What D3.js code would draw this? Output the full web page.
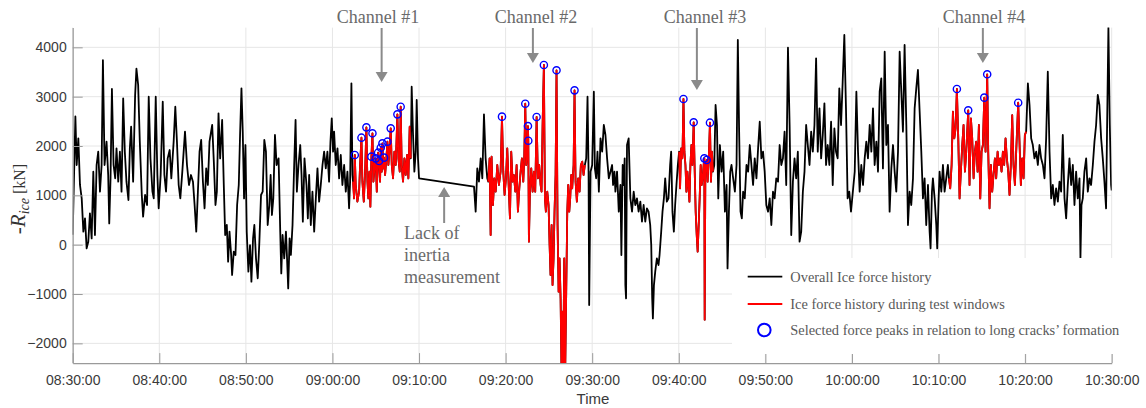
<!DOCTYPE html>
<html><head><meta charset="utf-8">
<script src="https://cdn.jsdelivr.net/npm/d3@7"></script>
<style>body{margin:0;background:#fff;}svg{display:block;}</style>
</head><body>
<svg id="chart" width="1146" height="408"></svg>
<script>
// ---------------- DATA (minutes after 08:30:00, force in kN) ----------------
const timeA = [0.00,0.31,0.46,0.65,0.84,1.04,1.23,1.42,1.61,1.80,1.99,2.19,2.38,2.57,2.76,2.95,3.15,3.34,3.49,3.68,3.91,4.10,4.22,4.37,4.53,4.72,4.91,5.06,5.26,5.45,5.64,5.83,6.02,6.21,6.44,6.60,6.75,6.98,7.21,7.36,7.56,7.75,7.98,8.13,8.36,8.59,8.78,8.98,9.21,9.36,9.59,9.78,9.93,10.16,10.40,10.59,10.78,10.97,11.20,11.39,11.66,11.85,12.04,12.24,12.43,12.66,12.97,13.20,13.43,13.66,13.89,14.08,14.27,14.46,14.65,14.84,15.04,15.23,15.42,15.61,15.80,16.11,16.30,16.49,16.65,16.84,17.03,17.26,17.45,17.61,17.80,17.95,18.11,18.30,18.41,18.60,18.80,18.99,19.18,19.33,19.49,19.64,19.79,19.95,20.10,20.29,20.48,20.64,20.83,20.98,21.17,21.37,21.56,21.75,21.94,22.13,22.32,22.52,22.71,22.86,23.01,23.17,23.36,23.55,23.78,23.97,24.09,24.24,24.43,24.63,24.74,24.89,25.05,25.20,25.39,25.58,25.74,25.89,26.08,26.28,26.43,26.58,26.77,27.00,27.16,27.31,27.50,27.69,27.89,28.08,28.27,28.46,28.65,28.85,29.04,29.23,29.42,29.61,29.77,29.92,30.07,30.19];
const forceA = [200,2600,1615,2155,1210,939,264,534,-74,61,635,128,1480,196,1615,1885,1074,1615,3740,1615,2088,1412,432,1345,3156,1615,1345,1953,1277,1885,1074,2966,1885,1277,905,1953,2392,1277,3034,3567,3236,2088,1007,568,1007,804,2999,1750,1074,939,2999,1412,737,1412,2898,1412,1074,1750,1919,1345,2088,2797,2088,1210,939,1480,2291,1615,1210,1412,1277,804,264,1074,1885,2122,1277,737,1547,1210,2088,2426,1682,804,1074,2662,1750,2527,1210,196,399,-345,264,-209,-615,-142,-209,804,1210,2223,3169,2291,939,2020,264,-547,-7,-750,128,399,-277,-683,61,1007,1074,2122,1885,399,804,1412,601,939,2223,1615,1750,264,-581,196,-277,264,-209,-885,128,-209,399,1615,2527,1074,1615,2020,1412,466,1750,1210,534,1412,399,1074,264,939,1547,872,1210,1615,1885,1547,1885,1277,2088,2561,1885,2291];

const timeB = [30.38,30.58,30.77,30.96,31.15,31.35,31.54,31.73,31.92,32.04,32.19,32.31,32.38,32.50,32.58,32.69,32.88,33.08,33.19,33.35,33.46,33.62,33.77,33.92,34.04,34.15,34.27,34.38,34.50,34.62,34.73,34.88,35.00,35.12,35.27,35.38,35.50,35.58,35.69,35.77,35.88,35.96,36.08,36.23,36.35,36.46,36.58,36.73,36.85,37.00,37.15,37.31,37.50,37.62,37.77,37.88,38.00,38.15,38.31,38.46,38.62,38.77,38.92,39.04,39.15,39.31,39.46,39.62,39.73,39.88,40.00,46.35,46.54,46.73,46.92,47.12,47.31,47.50,47.69,47.88,48.00,48.15,48.27,48.38,48.54,48.69,48.85,49.04,49.23,49.42,49.58,49.73,49.88,50.04,50.19,50.35,50.50,50.65,50.81,50.96,51.12,51.27,51.42,51.58,51.73,51.88,52.04,52.15,52.27,52.38,52.50,52.58,52.62,52.69,52.81,52.96,53.12,53.27,53.42,53.58,53.73,53.88,54.04,54.15,54.27,54.42,54.54,54.65,54.81,54.96,55.08,55.19,55.31,55.42,55.54,55.65,55.77,55.88,56.00,56.12,56.23,56.35,56.46,56.54,56.65,56.77,56.88,57.00,57.12,57.23,57.35,57.46,57.58,57.69,57.85,57.96,58.08,58.23,58.38,58.54,58.69,58.85,59.00,59.15,59.31,59.46,59.58,59.65,59.81,60.00];
const forceB = [1615,1953,1345,1818,1210,1615,1074,1480,737,1277,3270,1412,1277,939,1818,1210,872,1074,1615,2169,1277,872,1480,2378,1277,939,1480,770,1784,2257,1277,1615,1750,1074,1865,1696,1277,1966,1480,2054,1547,1764,1412,1750,2088,1615,1885,2358,1615,1345,1885,1615,2642,1750,1480,2797,1615,1277,1750,1412,1818,1345,2392,1750,3203,2223,1480,1885,2933,1750,1345,1176,669,1547,1277,1750,1345,2642,1750,1345,1277,1750,196,1784,804,1345,1074,1615,1210,1480,2595,1480,1007,1345,1953,1210,534,1885,1277,1412,1074,1615,669,1142,1480,1750,1277,1750,2858,1615,1885,2405,2108,61,1074,1547,1074,1480,1074,2588,1345,1615,1210,1074,2426,3642,939,669,1074,804,-7,-615,399,-818,-277,669,1412,3534,399,-953,-277,-1088,-2600,-1358,-2600,-277,-2600,-953,669,1210,669,939,1412,1142,1615,3128,1277,872,1345,1074,1615,1682,1412,1615,1750,3000,1480,-1223,1480,1615];

const timeC = [60.19,60.31,60.46,60.61,60.77,60.96,61.15,61.34,61.53,61.72,61.92,62.11,62.30,62.41,62.57,62.68,62.87,63.07,63.26,63.37,63.52,63.64,63.75,63.83,63.91,64.02,64.21,64.41,64.60,64.79,64.98,65.17,65.36,65.56,65.75,65.94,66.13,66.32,66.51,66.70,66.82,66.93,67.01,67.13,67.28,67.47,67.66,67.78,67.97,68.12,68.28,68.43,68.62,68.81,69.00,69.12,69.27,69.43,69.58,69.73,69.89,70.04,70.15,70.27,70.42,70.54,70.65,70.77,70.88,71.00,71.11,71.23,71.34,71.46,71.57,71.72,71.84,71.95,72.07,72.18,72.30,72.41,72.53,72.64,72.76,72.87,72.95,72.99,73.07,73.22,73.33,73.49,73.60,73.72,73.83,73.95,74.10,74.25,74.41,74.56,74.75,74.94,75.13,75.33,75.52,75.63,75.79,75.94,76.09,76.28,76.48,76.67,76.82,76.97,77.13,77.28,77.43,77.62,77.82,78.01,78.20,78.39,78.58,78.77,78.97,79.16,79.35,79.54,79.73,79.92,80.11,80.31,80.50,80.69,80.88,81.07,81.26,81.46,81.65,81.84,82.03,82.22,82.41,82.61,82.80,82.99,83.18,83.37,83.56,83.75,83.95,84.14,84.33,84.52,84.71,84.90,85.10,85.29,85.48,85.67,85.86,86.05,86.25,86.44,86.63,86.82,87.01,87.20,87.39,87.59,87.78,87.97,88.16,88.35,88.54,88.74,88.93,89.12,89.31,89.50,89.69,89.89];
const forceC = [3101,1547,1345,1885,1074,2155,1885,2426,2223,1750,1345,1480,1615,1210,1480,1074,1480,669,1210,-209,1615,1210,1750,-818,-1088,2020,2155,939,669,1074,804,939,669,872,466,804,466,737,669,399,-7,-1088,-1493,-818,-547,-277,-412,-209,264,669,939,1345,872,939,1615,1885,669,264,804,1210,1615,1885,1142,1953,1750,2953,1885,1615,1074,1480,1210,872,1615,2020,1615,2480,1480,669,196,-142,399,939,1615,1210,1345,1615,1750,-1520,1480,1716,1277,1885,2473,1277,1885,1480,1615,2831,2426,939,2020,1480,1885,669,1210,-480,669,1480,1615,1345,1074,1615,4149,2291,669,534,1074,939,1615,1480,2020,1615,1210,1750,1345,1953,2493,1750,1885,1480,804,669,939,399,1074,939,1345,1277,2020,1615,1750,2291,1210,3993,2426,196,1277,1750,1345,1885,61,264,1074,1480,2426,2020,1615,2291,1885,2426,3777,1885,2764,1750,2223,2865,1615,2020,1615,2493,1210,2358,1885,1750,3169,2426,3304,4250,2764,939,1074,669];

const timeD = [90.32,90.51,90.70,90.89,91.08,91.28,91.47,91.66,91.85,92.05,92.24,92.43,92.62,92.82,93.01,93.20,93.39,93.58,93.78,93.97,94.16,94.35,94.55,94.74,94.93,95.12,95.32,95.51,95.70,95.89,96.08,96.28,96.47,96.66,96.85,97.05,97.24,97.43,97.62,97.82,98.01,98.20,98.39,98.58,98.78,98.97,99.08,99.24,99.35,99.55,99.74,99.85,100.01,100.12,100.32,100.51,100.70,100.89,101.08,101.20,101.35,101.51,101.66,101.82,101.97,102.12,102.28,102.43,102.58,102.74,102.89,103.05,103.20,103.43,103.58,103.74,103.89,104.05,104.20,104.35,104.51,104.66,104.82,104.97,105.12,105.28,105.43,105.62,105.74,105.89,106.05,106.20,106.35,106.51,106.66,106.82,106.97,107.12,107.28,107.43,107.58,107.74,107.89,108.05,108.20,108.35,108.51,108.66,108.82,108.97,109.20,109.35,109.51,109.66,109.82,109.97,110.12,110.32,110.51,110.70,110.89,111.08,111.28,111.47,111.66,111.85,112.05,112.24,112.43,112.62,112.82,113.01,113.20,113.39,113.58,113.78,113.97,114.16,114.35,114.55,114.74,114.93,115.12,115.32,115.51,115.70,115.89,116.08,116.28,116.39,116.51,116.66,116.85,117.05,117.24,117.43,117.62,117.82,118.01,118.20,118.39,118.58,118.78,118.97,119.16,119.35,119.47,119.62,119.78,119.93,120.00];
const forceD = [1480,3101,1885,1074,1615,1210,1750,2088,1750,2426,1885,2764,1615,2088,1480,3101,3372,1547,3912,2020,2426,669,1547,2020,1480,1074,1885,3912,3101,2291,4047,2426,399,1074,804,1345,2764,3169,3541,2696,1885,939,1345,399,1210,264,-74,1074,1345,939,399,-74,939,1480,1074,1615,1074,1345,1615,1345,1142,1615,2696,2155,2358,3156,2155,939,1480,2020,2426,1480,1885,2723,1210,2561,2155,1345,1885,2088,1480,2426,939,1885,2020,2980,1885,3453,1885,737,1615,1074,1412,1750,1345,1885,1615,1750,1480,1885,1615,2155,1750,1480,1007,1615,2628,1615,1210,1885,2878,2088,1210,1750,1345,2223,2291,3270,2831,2155,2020,1750,1885,1615,2020,1750,1615,1345,2155,3507,1885,939,1210,804,1142,872,1277,1074,2223,939,534,1210,1750,1210,1615,804,1480,939,1345,-277,804,939,1480,1750,1074,1345,1210,1615,2088,2426,3034,2831,2155,1750,1277,737,2426,4400,2426,1210,1100];

// Test windows (minutes after 08:30:00)
const windowStart = [32.35, 47.95, 69.95, 101.15];
const windowEnd   = [39.10, 59.20, 73.97, 110.15];

// Selected force peaks
const peakTime  = [32.58,33.35,33.92,34.50,34.62,35.00,35.27,35.38,35.58,35.77,35.96,36.35,36.73,37.50,37.88, 49.58,52.27,52.58,52.62,53.58,54.42,55.88,57.96, 70.54,71.72,72.95,73.22,73.60, 102.12,103.43,105.28,105.62,109.20];
const peakForce = [1818,2169,2378,1784,2257,1750,1865,1696,1966,2054,1764,2088,2358,2642,2797, 2595,2858,2405,2108,2588,3642,3534,3128, 2953,2480,1750,1716,2473, 3156,2723,2980,3453,2878];

const xTickLabels = ["08:30:00","08:40:00","08:50:00","09:00:00","09:10:00","09:20:00","09:30:00","09:40:00","09:50:00","10:00:00","10:10:00","10:20:00","10:30:00"];
const yTickValues = [-2000,-1000,0,1000,2000,3000,4000];
const yDomain = [-2400, 4400];
const channelLabels = ["Channel #1","Channel #2","Channel #3","Channel #4"];
const gapNote = ["Lack of","inertia","measurement"];
const legendLabels = ["Overall Ice force history","Ice force history during test windows","Selected force peaks in relation to long cracks\u2019 formation"];

// ---------------- LAYOUT ----------------
const M = {left:72.7, right:1111.7, top:27.6, bottom:363.1};
const SERIF = "'Liberation Serif','Times New Roman',serif";
const SANS = "'Liberation Sans',Arial,sans-serif";
// channel arrows: arrow x (minutes), arrow tip (kN), label center x (px)
const chArrowMin = [35.68, 53.15, 72.09, 105.12];
const chArrowTip = [3297, 3682, 3135, 3682];
const chLabelX = [378, 536, 705, 984];

const svg = d3.select("#chart");
const parseT = d3.timeParse("%H:%M:%S");
const t0 = parseT("08:30:00");
const toDate = m => new Date(t0.getTime() + m * 60000);
const xTicks = xTickLabels.map(parseT);

const x = d3.scaleTime().domain([xTicks[0], xTicks[xTicks.length-1]]).range([M.left, M.right]);
const y = d3.scaleLinear().domain(yDomain).range([M.bottom, M.top]);

const times = timeA.concat(timeB, timeC, timeD);
const forces = forceA.concat(forceB, forceC, forceD);
const pts = times.map((t,i) => ({t, v: forces[i]}));

// grid
const grid = svg.append("g").attr("stroke", "#e6e6e6").attr("stroke-width", 1);
grid.selectAll("line.v").data(xTicks).join("line").attr("class","v")
  .attr("x1", d => x(d)).attr("x2", d => x(d)).attr("y1", M.top).attr("y2", M.bottom);
grid.selectAll("line.h").data(yTickValues).join("line").attr("class","h")
  .attr("x1", M.left).attr("x2", M.right).attr("y1", d => y(d)).attr("y2", d => y(d));

svg.append("clipPath").attr("id","clip").append("rect")
  .attr("x", M.left).attr("y", M.top).attr("width", M.right - M.left).attr("height", M.bottom - M.top);

const line = d3.line().x(d => x(toDate(d.t))).y(d => y(d.v));
const plot = svg.append("g").attr("clip-path","url(#clip)");
plot.append("path").datum(pts).attr("d", line).attr("fill","none")
  .attr("stroke","#000").attr("stroke-width",1.8).attr("stroke-linejoin","round");

const redSegs = windowStart.map((s,i) => pts.filter(p => p.t >= s && p.t <= windowEnd[i]));
plot.selectAll("path.red").data(redSegs).join("path").attr("class","red")
  .attr("d", line).attr("fill","none").attr("stroke","#ff0000").attr("stroke-width",1.8).attr("stroke-linejoin","round");

plot.selectAll("circle.pk").data(peakTime.map((t,i)=>({t, v: peakForce[i]}))).join("circle").attr("class","pk")
  .attr("cx", d => x(toDate(d.t))).attr("cy", d => y(d.v)).attr("r", 3.6)
  .attr("fill","none").attr("stroke","#0000ff").attr("stroke-width",1.4);

// axes
const axisColor = "#9a9a9a";
const gx = svg.append("g").attr("transform", `translate(0,${M.bottom})`)
  .call(d3.axisBottom(x).tickValues(xTicks).tickFormat(d3.timeFormat("%H:%M:%S"))
    .tickSizeInner(-10).tickSizeOuter(0).tickPadding(12));
const gy = svg.append("g").attr("transform", `translate(${M.left},0)`)
  .call(d3.axisLeft(y).tickValues(yTickValues).tickFormat(d3.format("d"))
    .tickSizeInner(-10).tickSizeOuter(0).tickPadding(6));
[gx, gy].forEach(g => {
  g.select(".domain").attr("stroke", axisColor).attr("stroke-width", 1.2);
  g.selectAll(".tick line").attr("stroke", axisColor).attr("stroke-width", 1);
  g.selectAll(".tick text").attr("fill", "#3a3a3a").style("font-family", SANS).style("font-size", "14px");
});

svg.append("text").attr("x", 593).attr("y", 404).attr("text-anchor","middle")
  .style("font-family", SANS).style("font-size","15px").attr("fill","#3a3a3a").text("Time");

// y label
const yl = svg.append("text").attr("transform","translate(25,199) rotate(-90)").attr("text-anchor","middle")
  .style("font-family", SERIF).attr("fill","#333");
yl.append("tspan").style("font-size","21px").style("font-style","italic").text("-R");
yl.append("tspan").style("font-size","14px").style("font-style","italic").attr("dy", 4).text("ice");
yl.append("tspan").style("font-size","16px").attr("dy", -4).text(" [kN]");

// legend
const lg = svg.append("g");
lg.append("rect").attr("x", 732).attr("y", 258).attr("width", 395).attr("height", 96).attr("fill","#fff");
const legY = [276.7, 304, 330];
lg.append("line").attr("x1",747.7).attr("x2",782.3).attr("y1",legY[0]).attr("y2",legY[0]).attr("stroke","#000").attr("stroke-width",1.8);
lg.append("line").attr("x1",747.7).attr("x2",782.3).attr("y1",legY[1]).attr("y2",legY[1]).attr("stroke","#ff0000").attr("stroke-width",1.8);
lg.append("circle").attr("cx",764.3).attr("cy",legY[2]).attr("r",6.3).attr("fill","none").attr("stroke","#0000ff").attr("stroke-width",2);
lg.selectAll("text").data(legendLabels).join("text")
  .attr("x", 790.3).attr("y", (d,i) => legY[i] + 5)
  .style("font-family", SERIF).style("font-size","14.4px").attr("fill","#595959").text(d => d);

// annotations
const annColor = "#8a8a8a";
const ann = svg.append("g");
function arrowDown(ax, top, tip) {
  ann.append("line").attr("x1",ax).attr("x2",ax).attr("y1",top).attr("y2",tip-9).attr("stroke",annColor).attr("stroke-width",2);
  ann.append("path").attr("d",`M${ax-6},${tip-10}L${ax+6},${tip-10}L${ax},${tip}Z`).attr("fill",annColor);
}
channelLabels.forEach((lab,i) => {
  const ax = x(toDate(chArrowMin[i]));
  arrowDown(ax, 28, y(chArrowTip[i]));
  ann.append("text").attr("x", chLabelX[i]).attr("y", 22.5).attr("text-anchor","middle")
    .style("font-family", SERIF).style("font-size","18px").attr("fill","#6a6a6a").text(lab);
});
// lack-of-inertia arrow (up)
const gapX = x(toDate(42.9)), gapTip = y(1170), gapBase = y(440);
ann.append("line").attr("x1",gapX).attr("x2",gapX).attr("y1",gapBase).attr("y2",gapTip+9).attr("stroke",annColor).attr("stroke-width",2);
ann.append("path").attr("d",`M${gapX-6},${gapTip+10}L${gapX+6},${gapTip+10}L${gapX},${gapTip}Z`).attr("fill",annColor);
ann.selectAll("text.gap").data(gapNote).join("text").attr("class","gap")
  .attr("x", 404).attr("y", (d,i) => 239.3 + i*22)
  .style("font-family", SERIF).style("font-size","18px").attr("fill","#6a6a6a").text(d => d);
</script>
</body></html>
